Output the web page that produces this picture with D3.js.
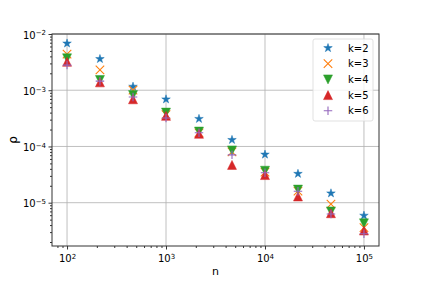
<!DOCTYPE html>
<html>
<head>
  <meta charset="utf-8">
  <style>
  body { margin: 0; background: #fff; }
  text { font-family: "DejaVu Sans", sans-serif; fill: #000; }
  .grid line { stroke: #b0b0b0; stroke-width: 0.8; }
  .axis path { display: none; }
  .axis line { stroke: #000; stroke-width: 0.8; }
  </style>
</head>
<body>
<script src="https://d3js.org/d3.v7.min.js"></script>
<script>
  // sample sizes n and rho for each k
  var nValues = [100, 215, 464, 1000, 2154, 4642, 10000, 21544, 46416, 100000];
  var k2 = [6.8e-3, 3.6e-3, 1.16e-3, 6.9e-4, 3.1e-4, 1.31e-4, 7.2e-5, 3.27e-5, 1.47e-5, 5.9e-6];
  var k3 = [4.4e-3, 2.3e-3, 1.0e-3, 3.7e-4, 1.75e-4, 8.0e-5, 3.5e-5, 1.6e-5, 9.4e-6, 3.6e-6];
  var k4 = [3.7e-3, 1.52e-3, 8.2e-4, 4.0e-4, 1.84e-4, 8.5e-5, 3.7e-5, 1.71e-5, 7.0e-6, 4.3e-6];
  var k5 = [3.2e-3, 1.38e-3, 6.9e-4, 3.5e-4, 1.68e-4, 4.7e-5, 3.1e-5, 1.29e-5, 6.5e-6, 3.2e-6];
  var k6 = [2.8e-3, 1.45e-3, 7.6e-4, 3.2e-4, 1.75e-4, 7.1e-5, 3.4e-5, 1.6e-5, 6.3e-6, 2.8e-6];
  var seriesNames = ["k=2", "k=3", "k=4", "k=5", "k=6"];
  var xTicks = [1e2, 1e3, 1e4, 1e5];
  var yTicks = [1e-5, 1e-4, 1e-3, 1e-2];

  var series = [
    {name: seriesNames[0], values: k2, color: "#1f77b4", shape: "star"},
    {name: seriesNames[1], values: k3, color: "#ff7f0e", shape: "x"},
    {name: seriesNames[2], values: k4, color: "#2ca02c", shape: "tridown"},
    {name: seriesNames[3], values: k5, color: "#d62728", shape: "triup"},
    {name: seriesNames[4], values: k6, color: "#9467bd", shape: "plus"}
  ];

  var width = 421, height = 281;
  var pLeft = 52, pRight = 379, pTop = 34, pBottom = 246;

  var svg = d3.select("body").append("svg")
      .attr("width", width)
      .attr("height", height);

  var x = d3.scaleLog()
      .domain([Math.pow(10, 1.848), Math.pow(10, 5.152)])
      .range([pLeft, pRight]);
  var y = d3.scaleLog()
      .domain([Math.pow(10, -5.77), 1e-2])
      .range([pBottom, pTop]);

  function minors(scale) {
    var d = scale.domain(), out = [];
    var lo = Math.floor(Math.log10(d[0])), hi = Math.ceil(Math.log10(d[1]));
    for (var e = lo; e <= hi; e++) {
      for (var m = 2; m <= 9; m++) {
        var v = m * Math.pow(10, e);
        if (v >= d[0] && v <= d[1]) out.push(v);
      }
    }
    return out;
  }

  // grid
  svg.append("g").attr("class", "grid")
    .selectAll("line").data(xTicks).enter().append("line")
      .attr("x1", function(d) { return x(d); }).attr("x2", function(d) { return x(d); })
      .attr("y1", pTop).attr("y2", pBottom);
  svg.append("g").attr("class", "grid")
    .selectAll("line").data(yTicks).enter().append("line")
      .attr("y1", function(d) { return y(d); }).attr("y2", function(d) { return y(d); })
      .attr("x1", pLeft).attr("x2", pRight);

  function supLabel(sel, exp) {
    sel.text(null);
    sel.append("tspan").text("10");
    sel.append("tspan").attr("dy", "-0.45em").style("font-size", "7px").text(exp);
  }

  // x axis
  svg.append("g").attr("class", "axis")
      .attr("transform", "translate(0," + pBottom + ")")
      .call(d3.axisBottom(x).tickValues(minors(x)).tickSize(2).tickFormat(""));
  var xMaj = svg.append("g").attr("class", "axis")
      .attr("transform", "translate(0," + pBottom + ")")
      .call(d3.axisBottom(x).tickValues(xTicks).tickSize(3.5).tickFormat(""));
  xMaj.selectAll(".tick text").remove();
  xMaj.selectAll(".tick").append("text")
      .attr("y", 16).attr("text-anchor", "middle").style("font-size", "10px")
      .each(function(d) { supLabel(d3.select(this), String(Math.round(Math.log10(d)))); });

  // y axis
  svg.append("g").attr("class", "axis")
      .attr("transform", "translate(" + pLeft + ",0)")
      .call(d3.axisLeft(y).tickValues(minors(y)).tickSize(2).tickFormat(""));
  var yMaj = svg.append("g").attr("class", "axis")
      .attr("transform", "translate(" + pLeft + ",0)")
      .call(d3.axisLeft(y).tickValues(yTicks).tickSize(3.5).tickFormat(""));
  yMaj.selectAll(".tick text").remove();
  yMaj.selectAll(".tick").append("text")
      .attr("x", -6).attr("y", 4).attr("text-anchor", "end").style("font-size", "10px")
      .each(function(d) { supLabel(d3.select(this), "\u2212" + Math.round(-Math.log10(d))); });

  // frame
  svg.append("rect")
      .attr("x", pLeft).attr("y", pTop)
      .attr("width", pRight - pLeft).attr("height", pBottom - pTop)
      .attr("fill", "none").attr("stroke", "#333").attr("stroke-width", 1);

  // axis labels
  svg.append("text").attr("x", (pLeft + pRight) / 2).attr("y", 275)
      .attr("text-anchor", "middle").style("font-size", "11px").text("n");
  svg.append("text")
      .attr("transform", "translate(17," + ((pTop + pBottom) / 2) + ") rotate(-90)")
      .attr("text-anchor", "middle").style("font-size", "12px").text("\u03c1");

  // marker shapes, s = marker size in px
  function markerPath(shape, s) {
    var r = s / 2, p;
    if (shape === "star") {
      p = [];
      for (var i = 0; i < 10; i++) {
        var rad = i % 2 ? r * 0.381966 : r;
        var a = Math.PI / 5 * i;
        p.push([rad * Math.sin(a), -rad * Math.cos(a)]);
      }
      return "M" + p.join("L") + "Z";
    }
    if (shape === "triup") return "M0," + (-r) + "L" + r + "," + r + "L" + (-r) + "," + r + "Z";
    if (shape === "tridown") return "M0," + r + "L" + r + "," + (-r) + "L" + (-r) + "," + (-r) + "Z";
    if (shape === "x") return "M" + (-r) + "," + (-r) + "L" + r + "," + r + "M" + (-r) + "," + r + "L" + r + "," + (-r);
    return "M" + (-r) + ",0L" + r + ",0M0," + (-r) + "L0," + r;
  }

  function styleMarker(sel, s) {
    var open = s.shape === "x" || s.shape === "plus";
    sel.attr("d", markerPath(s.shape, open ? 8.5 : 9))
      .attr("fill", open ? "none" : s.color)
      .attr("stroke", s.color)
      .attr("stroke-width", open ? 1.1 : 0.5)
      .attr("stroke-linejoin", "miter");
  }

  series.forEach(function(s) {
    svg.append("g").selectAll("path")
      .data(nValues.map(function(n, i) { return [n, s.values[i]]; }))
      .enter().append("path")
        .attr("transform", function(d) { return "translate(" + x(d[0]) + "," + y(d[1]) + ")"; })
        .each(function() { styleMarker(d3.select(this), s); });
  });

  // legend
  var lg = svg.append("g");
  lg.append("rect")
      .attr("x", 313).attr("y", 39).attr("width", 60).attr("height", 82)
      .attr("rx", 2).attr("fill", "#fff").attr("fill-opacity", 0.8)
      .attr("stroke", "#d9d9d9").attr("stroke-width", 0.8);
  series.forEach(function(s, i) {
    var yy = 48 + i * 15.7;
    lg.append("path").attr("transform", "translate(328," + yy + ")")
      .call(styleMarker, s);
    lg.append("text").attr("x", 348).attr("y", yy + 3.6)
      .style("font-size", "10px").text(s.name);
  });
</script>
